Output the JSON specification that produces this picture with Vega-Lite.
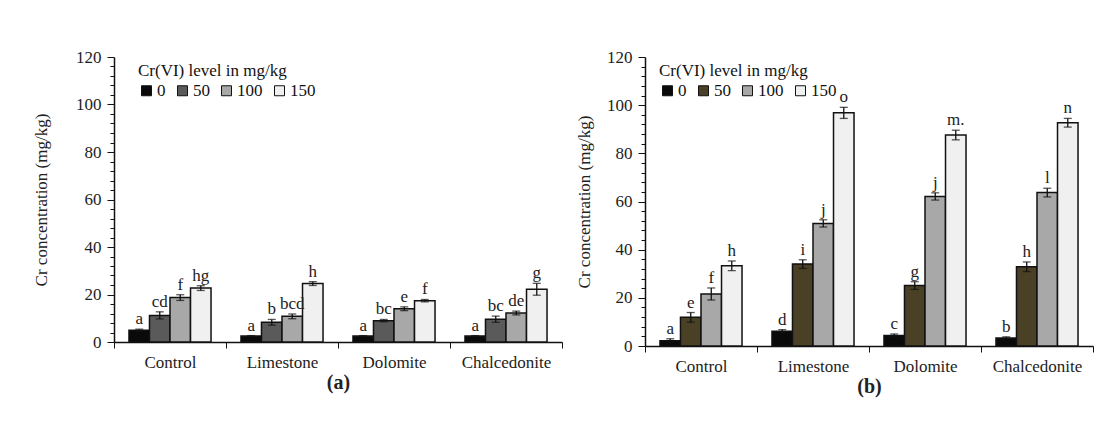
{
  "$schema": "https://vega.github.io/schema/vega-lite/v6.json",
  "padding": {"left": 32, "top": 48, "right": 5, "bottom": 5},
  "background": "white",
  "spacing": 12,
  "config": {
    "font": "Liberation Serif",
    "view": {"stroke": null},
    "text": {"font": "Liberation Serif"},
    "axis": {"labelFont": "Liberation Serif", "titleFont": "Liberation Serif", "labelColor": "#222", "titleColor": "#222", "domainColor": "#111", "tickColor": "#111", "grid": false, "labelFontSize": 17, "titleFontSize": 17, "titleFontWeight": "normal", "labelOverlap": false},
    "legend": {"labelFont": "Liberation Serif", "titleFont": "Liberation Serif", "labelFontSize": 17, "titleFontSize": 17, "titleFontWeight": "normal", "labelColor": "#111", "titleColor": "#111"}
  },
  "datasets": {
    "a": [
      {"soil": "Control", "level": "0", "value": 4.9, "lo": 4.4, "hi": 5.4, "sig": "a"},
      {"soil": "Control", "level": "50", "value": 11.2, "lo": 9.7, "hi": 12.7, "sig": "cd"},
      {"soil": "Control", "level": "100", "value": 18.7, "lo": 17.5, "hi": 19.9, "sig": "f"},
      {"soil": "Control", "level": "150", "value": 22.7, "lo": 21.7, "hi": 23.7, "sig": "hg"},
      {"soil": "Limestone", "level": "0", "value": 2.5, "lo": 2.3, "hi": 2.7, "sig": "a"},
      {"soil": "Limestone", "level": "50", "value": 8.3, "lo": 7.1, "hi": 9.5, "sig": "b"},
      {"soil": "Limestone", "level": "100", "value": 10.8, "lo": 9.8, "hi": 11.8, "sig": "bcd"},
      {"soil": "Limestone", "level": "150", "value": 24.6, "lo": 23.8, "hi": 25.4, "sig": "h"},
      {"soil": "Dolomite", "level": "0", "value": 2.5, "lo": 2.3, "hi": 2.7, "sig": "a"},
      {"soil": "Dolomite", "level": "50", "value": 9.0, "lo": 8.5, "hi": 9.5, "sig": "bc"},
      {"soil": "Dolomite", "level": "100", "value": 14.0, "lo": 13.2, "hi": 14.8, "sig": "e"},
      {"soil": "Dolomite", "level": "150", "value": 17.4, "lo": 16.9, "hi": 17.9, "sig": "f"},
      {"soil": "Chalcedonite", "level": "0", "value": 2.5, "lo": 2.3, "hi": 2.7, "sig": "a"},
      {"soil": "Chalcedonite", "level": "50", "value": 9.6, "lo": 8.3, "hi": 10.9, "sig": "bc"},
      {"soil": "Chalcedonite", "level": "100", "value": 12.2, "lo": 11.4, "hi": 13.0, "sig": "de"},
      {"soil": "Chalcedonite", "level": "150", "value": 22.2, "lo": 19.7, "hi": 24.7, "sig": "g"}
    ],
    "b": [
      {"soil": "Control", "level": "0", "value": 2.2, "lo": 1.4, "hi": 3.0, "sig": "a"},
      {"soil": "Control", "level": "50", "value": 11.9, "lo": 9.9, "hi": 13.9, "sig": "e"},
      {"soil": "Control", "level": "100", "value": 21.6, "lo": 19.1, "hi": 24.1, "sig": "f"},
      {"soil": "Control", "level": "150", "value": 33.3, "lo": 31.3, "hi": 35.3, "sig": "h"},
      {"soil": "Limestone", "level": "0", "value": 6.1, "lo": 5.4, "hi": 6.8, "sig": "d"},
      {"soil": "Limestone", "level": "50", "value": 34.0, "lo": 32.2, "hi": 35.8, "sig": "i"},
      {"soil": "Limestone", "level": "100", "value": 50.9, "lo": 49.4, "hi": 52.4, "sig": "j"},
      {"soil": "Limestone", "level": "150", "value": 96.8, "lo": 94.5, "hi": 99.1, "sig": "o"},
      {"soil": "Dolomite", "level": "0", "value": 4.4, "lo": 3.8, "hi": 5.0, "sig": "c"},
      {"soil": "Dolomite", "level": "50", "value": 25.1, "lo": 23.5, "hi": 26.7, "sig": "g"},
      {"soil": "Dolomite", "level": "100", "value": 62.1, "lo": 60.6, "hi": 63.6, "sig": "j"},
      {"soil": "Dolomite", "level": "150", "value": 87.6, "lo": 85.6, "hi": 89.6, "sig": "m."},
      {"soil": "Chalcedonite", "level": "0", "value": 3.3, "lo": 2.8, "hi": 3.8, "sig": "b"},
      {"soil": "Chalcedonite", "level": "50", "value": 32.9, "lo": 30.9, "hi": 34.9, "sig": "h"},
      {"soil": "Chalcedonite", "level": "100", "value": 63.7, "lo": 61.9, "hi": 65.5, "sig": "l"},
      {"soil": "Chalcedonite", "level": "150", "value": 92.7, "lo": 90.9, "hi": 94.5, "sig": "n"}
    ]
  },
  "hconcat": [
    {
      "width": 448,
      "height": 285,
      "data": {"name": "a"},
      "encoding": {
        "x": {"field": "soil", "type": "nominal", "sort": ["Control", "Limestone", "Dolomite", "Chalcedonite"], "scale": {"paddingInner": 0, "paddingOuter": 0}, "axis": {"title": "(a)", "titleFont": "Liberation Serif", "labelFont": "Liberation Serif", "titleFontWeight": "bold", "titleFontSize": 20, "titlePadding": 2, "labelAngle": 0, "tickBand": "extent", "tickSize": 6, "labelPadding": 6, "domainWidth": 1.5}},
        "xOffset": {"field": "level", "type": "nominal", "sort": ["0", "50", "100", "150"], "scale": {"paddingInner": 0, "paddingOuter": 0.73}}
      },
      "layer": [
        {
          "mark": {"type": "bar", "stroke": "#111", "strokeWidth": 1.5},
          "encoding": {
            "y": {"field": "value", "type": "quantitative", "scale": {"domain": [0, 120], "nice": false}, "axis": {"orient": "left", "title": "Cr concentration (mg/kg)", "titleFont": "Liberation Serif", "labelFont": "Liberation Serif", "titlePadding": 25, "values": [0, 20, 40, 60, 80, 100, 120], "labelOverlap": false, "tickSize": 7, "labelPadding": 6, "domainWidth": 1.5}},
            "color": {"field": "level", "type": "nominal", "sort": ["0", "50", "100", "150"], "scale": {"domain": ["0", "50", "100", "150"], "range": ["#0a0a0a", "#5a5a5a", "#a8a8a8", "#f0f0f0"]}, "legend": {"title": "Cr(VI) level in mg/kg", "orient": "none", "legendX": 24, "legendY": 6, "direction": "horizontal", "symbolType": "square", "symbolSize": 100, "symbolStrokeColor": "#111", "symbolStrokeWidth": 1, "labelOffset": 2, "columnPadding": 8, "titlePadding": 2}}
          }
        },
        {
          "mark": {"type": "rule", "color": "#111", "strokeWidth": 1.3},
          "encoding": {"y": {"field": "lo", "type": "quantitative", "axis": {"orient": "left", "title": null, "values": [4,8,12,16,24,28,32,36,44,48,52,56,64,68,72,76,84,88,92,96,104,108,112,116], "labels": false, "domain": false, "tickSize": 4, "tickWidth": 1}}, "y2": {"field": "hi"}}
        },
        {
          "mark": {"type": "tick", "color": "#111", "size": 8, "thickness": 1.3},
          "encoding": {"y": {"field": "lo", "type": "quantitative", "axis": null}}
        },
        {
          "mark": {"type": "tick", "color": "#111", "size": 8, "thickness": 1.3},
          "encoding": {"y": {"field": "hi", "type": "quantitative", "axis": null}}
        },
        {
          "mark": {"type": "text", "baseline": "bottom", "dy": -1, "fontSize": 17, "color": "#222"},
          "encoding": {"y": {"field": "hi", "type": "quantitative", "axis": null}, "text": {"field": "sig"}}
        }
      ],
      "resolve": {"axis": {"y": "independent"}}
    },
    {
      "width": 448,
      "height": 289,
      "data": {"name": "b"},
      "encoding": {
        "x": {"field": "soil", "type": "nominal", "sort": ["Control", "Limestone", "Dolomite", "Chalcedonite"], "scale": {"paddingInner": 0, "paddingOuter": 0}, "axis": {"title": "(b)", "titleFont": "Liberation Serif", "labelFont": "Liberation Serif", "titleFontWeight": "bold", "titleFontSize": 20, "titlePadding": 2, "labelAngle": 0, "tickBand": "extent", "tickSize": 6, "labelPadding": 6, "domainWidth": 1.5}},
        "xOffset": {"field": "level", "type": "nominal", "sort": ["0", "50", "100", "150"], "scale": {"paddingInner": 0, "paddingOuter": 0.73}}
      },
      "layer": [
        {
          "mark": {"type": "bar", "stroke": "#111", "strokeWidth": 1.5},
          "encoding": {
            "y": {"field": "value", "type": "quantitative", "scale": {"domain": [0, 120], "nice": false}, "axis": {"orient": "left", "title": "Cr concentration (mg/kg)", "titleFont": "Liberation Serif", "labelFont": "Liberation Serif", "titlePadding": 13, "values": [0, 20, 40, 60, 80, 100, 120], "labelOverlap": false, "tickSize": 7, "labelPadding": 6, "domainWidth": 1.5}},
            "color": {"field": "level", "type": "nominal", "sort": ["0", "50", "100", "150"], "scale": {"domain": ["0", "50", "100", "150"], "range": ["#0a0a0a", "#4a4026", "#a8a8a8", "#f0f0f0"]}, "legend": {"title": "Cr(VI) level in mg/kg", "orient": "none", "legendX": 14, "legendY": 6, "direction": "horizontal", "symbolType": "square", "symbolSize": 100, "symbolStrokeColor": "#111", "symbolStrokeWidth": 1, "labelOffset": 2, "columnPadding": 8, "titlePadding": 2}}
          }
        },
        {
          "mark": {"type": "rule", "color": "#111", "strokeWidth": 1.3},
          "encoding": {"y": {"field": "lo", "type": "quantitative", "axis": {"orient": "left", "title": null, "values": [4,8,12,16,24,28,32,36,44,48,52,56,64,68,72,76,84,88,92,96,104,108,112,116], "labels": false, "domain": false, "tickSize": 4, "tickWidth": 1}}, "y2": {"field": "hi"}}
        },
        {
          "mark": {"type": "tick", "color": "#111", "size": 8, "thickness": 1.3},
          "encoding": {"y": {"field": "lo", "type": "quantitative", "axis": null}}
        },
        {
          "mark": {"type": "tick", "color": "#111", "size": 8, "thickness": 1.3},
          "encoding": {"y": {"field": "hi", "type": "quantitative", "axis": null}}
        },
        {
          "mark": {"type": "text", "baseline": "bottom", "dy": -1, "fontSize": 17, "color": "#222"},
          "encoding": {"y": {"field": "hi", "type": "quantitative", "axis": null}, "text": {"field": "sig"}}
        }
      ],
      "resolve": {"axis": {"y": "independent"}}
    }
  ],
  "resolve": {"scale": {"color": "independent", "y": "independent", "x": "independent"}}
}
